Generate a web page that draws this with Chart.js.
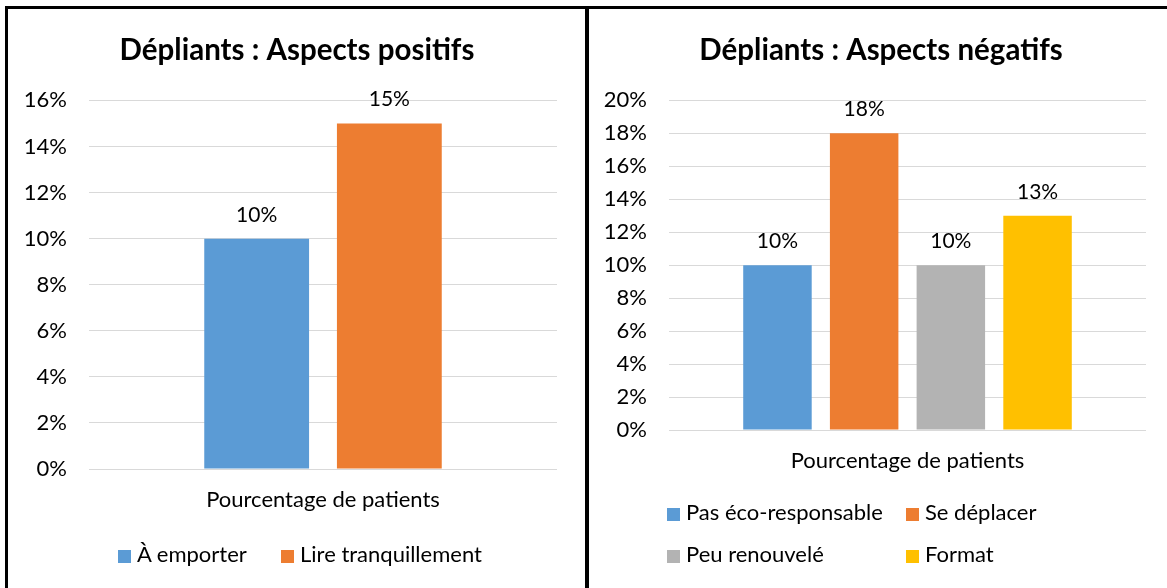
<!DOCTYPE html>
<html>
<head>
<meta charset="utf-8">
<script src="https://cdn.jsdelivr.net/npm/chart.js@4/dist/chart.umd.min.js"></script>
<style>
  body { margin: 0; background: #fff; font-family: Lato, sans-serif; }
  #page { position: relative; width: 1167px; height: 588px; overflow: hidden; }
  canvas { position: absolute; top: 0; }
  .frameTop { position: absolute; left: 5px; top: 6px; width: 1162px; height: 3px; background: #000; }
  .frameLeft { position: absolute; left: 5px; top: 6px; width: 3px; height: 582px; background: #000; }
  .divider { position: absolute; left: 585px; top: 6px; width: 4px; height: 582px; background: #000; }
  .leg { position: absolute; font: 22px Lato, sans-serif; color: #000; white-space: nowrap; line-height: 26px; }
  .leg i { display: inline-block; width: 13px; height: 13px; margin-right: 6px; vertical-align: -1px; }
</style>
</head>
<body>
<div id="page">
  <canvas id="posChart" width="586" height="588" style="left:4px"></canvas>
  <canvas id="negChart" width="578" height="588" style="left:592px"></canvas>
  <div class="frameTop"></div>
  <div class="frameLeft"></div>
  <div class="divider"></div>
  <div id="posLegend"></div>
  <div id="negLegend"></div>
</div>
<script>
// data
var category = ['Pourcentage de patients'];

var posTitle = 'Dépliants : Aspects positifs';
var posSeries = ['À emporter', 'Lire tranquillement'];
var posValues = [10, 15];
var posColors = ['#5B9BD5', '#ED7D31'];

var negTitle = 'Dépliants : Aspects négatifs';
var negSeries = ['Pas éco-responsable', 'Se déplacer', 'Peu renouvelé', 'Format'];
var negValues = [10, 18, 10, 13];
var negColors = ['#5B9BD5', '#ED7D31', '#B3B3B3', '#FFC000'];

Chart.defaults.font.family = 'Lato, sans-serif';
Chart.defaults.color = '#000';

// value labels above the bars
var barLabels = {
  id: 'barLabels',
  afterDatasetsDraw: function (chart) {
    var ctx = chart.ctx;
    ctx.save();
    ctx.font = '21px Lato, sans-serif';
    ctx.fillStyle = '#000';
    ctx.textAlign = 'center';
    ctx.textBaseline = 'alphabetic';
    chart.data.datasets.forEach(function (ds, i) {
      chart.getDatasetMeta(i).data.forEach(function (bar, j) {
        ctx.fillText(ds.data[j] + '%', bar.x, bar.y - 17);
      });
    });
    ctx.restore();
  }
};

function makeChart(id, title, series, values, colors, yMax, yWidth, rightWidth, padBottom, catPct) {
  var datasets = series.map(function (name, i) {
    return {
      label: name,
      data: [values[i]],
      backgroundColor: colors[i],
      barPercentage: 0.79,
      categoryPercentage: catPct
    };
  });
  return new Chart(document.getElementById(id), {
    type: 'bar',
    data: { labels: category, datasets: datasets },
    plugins: [barLabels],
    options: {
      responsive: false,
      animation: false,
      layout: { padding: { left: 0, right: 0, top: 0, bottom: padBottom } },
      plugins: {
        legend: { display: false },
        tooltip: { enabled: false },
        title: {
          display: true,
          text: title,
          font: { size: 29.5, weight: 'bold' },
          color: '#000',
          padding: { top: 33, bottom: 32 }
        }
      },
      scales: {
        x: {
          afterFit: function (scale) { scale.height = 46; },
          grid: { display: false, drawTicks: false },
          border: { display: false },
          ticks: { font: { size: 22 }, padding: 18, color: '#000', maxRotation: 0 }
        },
        y: {
          min: 0,
          max: yMax,
          afterFit: function (scale) { scale.width = yWidth; },
          grid: { color: '#D9D9D9', lineWidth: 1, drawTicks: false },
          border: { display: false },
          ticks: {
            stepSize: 2,
            padding: 22,
            font: { size: 22 },
            color: '#000',
            callback: function (v) { return v + '%'; }
          }
        },
        // empty margin on the right of the plot
        yRight: {
          position: 'right',
          afterFit: function (scale) { scale.width = rightWidth; },
          grid: { display: false, drawTicks: false },
          border: { display: false },
          ticks: { display: false }
        }
      }
    }
  });
}

makeChart('posChart', posTitle, posSeries, posValues, posColors, 16, 85, 33, 73, 0.567);
makeChart('negChart', negTitle, negSeries, negValues, negColors, 20, 77, 24, 112, 0.727);

// html legends
function legend(id, series, colors, spots) {
  var box = document.getElementById(id);
  series.forEach(function (name, i) {
    var d = document.createElement('div');
    d.className = 'leg';
    d.style.left = spots[i][0] + 'px';
    d.style.top = (spots[i][1] - 13) + 'px';
    d.innerHTML = '<i style="background:' + colors[i] + '"></i>' + name;
    box.appendChild(d);
  });
}
legend('posLegend', posSeries, posColors, [[118, 554], [281, 554]]);
legend('negLegend', negSeries, negColors, [[667, 512], [906, 512], [667, 554], [906, 554]]);
</script>
</body>
</html>
